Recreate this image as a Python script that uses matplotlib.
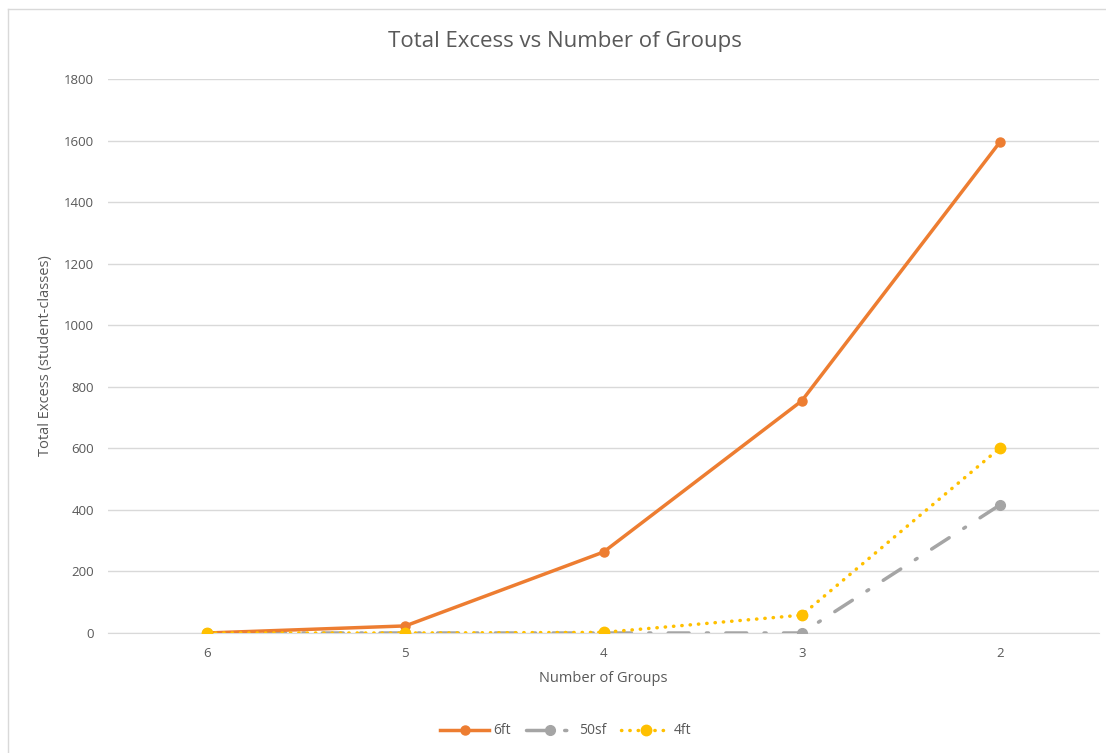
import matplotlib.pyplot as plt
from matplotlib.lines import Line2D

# Total excess per spacing rule, by number of groups
groups = ["6", "5", "4", "3", "2"]
excess_6ft = [0, 23, 263, 754, 1595]
excess_50sf = [0, 0, 0, 0, 416]
excess_4ft = [0, 0, 2, 58, 601]

y_ticks = [0, 200, 400, 600, 800, 1000, 1200, 1400, 1600, 1800]

ORANGE = "#ED7D31"
GREY = "#A5A5A5"
GOLD = "#FFC000"
TEXT = "#595959"

plt.rcParams["font.family"] = ["Open Sans", "DejaVu Sans"]

fig = plt.figure(figsize=(11.06, 7.53), dpi=100)
ax = fig.add_axes([108 / 1106, 1 - 633 / 753, 991 / 1106, 554 / 753])

x = list(range(len(groups)))

ax.plot(x, excess_6ft, color=ORANGE, lw=2.5, marker="o", ms=6.5,
        solid_capstyle="round", label="6ft", zorder=4)
ax.plot(x, excess_50sf, color=GREY, lw=2.5, marker="o", ms=7,
        dashes=(6, 5, 0.6, 5), dash_capstyle="round", label="50sf", zorder=3)
ax.plot(x, excess_4ft, color=GOLD, lw=2.5, marker="o", ms=7.5,
        dashes=(0.1, 2.3), dash_capstyle="round", label="4ft", zorder=5)

ax.set_xlim(-0.5, len(groups) - 0.5)
ax.set_ylim(0, 1800)
ax.set_xticks(x)
ax.set_xticklabels(groups)
ax.set_yticks(y_ticks)

ax.grid(axis="y", color="#D9D9D9", lw=1)
ax.set_axisbelow(True)
for side in ("top", "right", "left"):
    ax.spines[side].set_visible(False)
ax.spines["bottom"].set_color("#D9D9D9")
ax.tick_params(length=0, colors=TEXT, labelsize=9.5, pad=10)

ax.set_xlabel("Number of Groups", color=TEXT, fontsize=10.5, labelpad=8)
ax.set_ylabel("Total Excess (student-classes)", color=TEXT, fontsize=10.5, labelpad=8)

fig.text(565 / 1106, 1 - 41 / 753, "Total Excess vs Number of Groups",
         ha="center", va="center", color=TEXT, fontsize=16)

handles = [
    Line2D([], [], color=ORANGE, lw=2.5, marker="o", ms=6.5),
    Line2D([], [], color=GREY, lw=2.5, marker="o", ms=7,
           dashes=(6, 5, 0.6, 5), dash_capstyle="round"),
    Line2D([], [], color=GOLD, lw=2.5, marker="o", ms=7.5,
           dashes=(0.1, 2.3), dash_capstyle="round"),
]
fig.legend(handles, ["6ft", "50sf", "4ft"], loc="center",
           bbox_to_anchor=(566 / 1106, 1 - 731 / 753), ncol=3, frameon=False,
           fontsize=10, labelcolor=TEXT, handlelength=3.5,
           handletextpad=0.3, columnspacing=1.1)

# chart area border (left and top edges)
fig.add_artist(Line2D([7.5 / 1106, 7.5 / 1106], [0, 1 - 9 / 753],
                      color="#D9D9D9", lw=1))
fig.add_artist(Line2D([7.5 / 1106, 1], [1 - 9 / 753, 1 - 9 / 753],
                      color="#D9D9D9", lw=1))

fig.savefig("out.png", dpi=100)
